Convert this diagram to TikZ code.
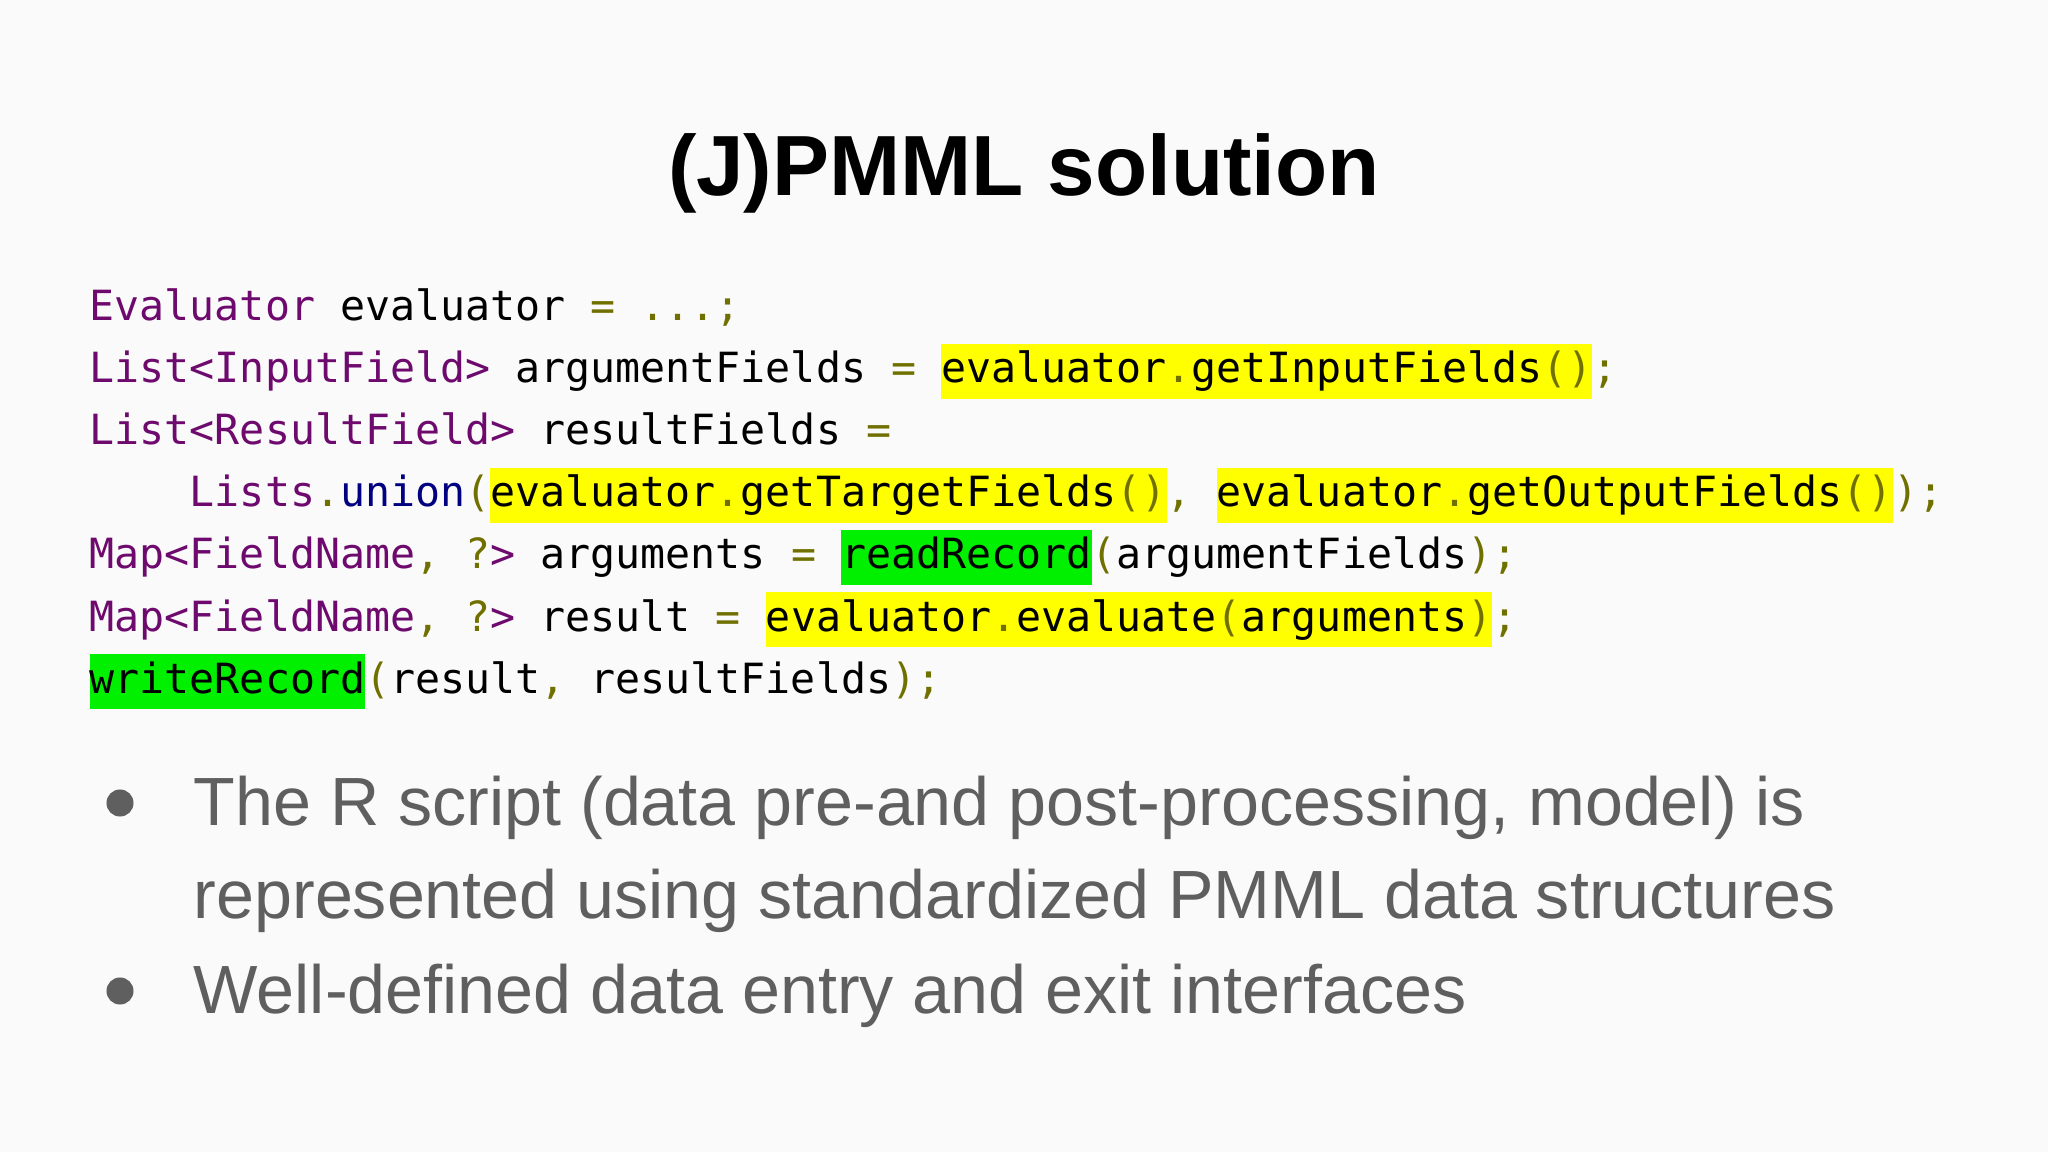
\documentclass[tikz,border=0pt]{standalone}
\usepackage{fontspec}
\setmainfont{Liberation Sans}
\setmonofont{DejaVu Sans Mono}
\definecolor{bg}{HTML}{FAFAFA}
\definecolor{ty}{HTML}{6E0A6E}
\definecolor{pu}{HTML}{707000}
\definecolor{nv}{HTML}{000080}
\definecolor{hy}{HTML}{FFFF00}
\definecolor{hg}{HTML}{00F000}
\definecolor{gr}{HTML}{5F5F5F}
\newcommand\ty[1]{\textcolor{ty}{#1}}
\newcommand\pu[1]{\textcolor{pu}{#1}}
\newcommand\nv[1]{\textcolor{nv}{#1}}
\newcommand\hly[1]{{\setlength\fboxsep{0pt}\colorbox{hy}{\rule[-4.6pt]{0pt}{15.6pt}#1}}}
\newcommand\hlg[1]{{\setlength\fboxsep{0pt}\colorbox{hg}{\rule[-4.6pt]{0pt}{15.6pt}#1}}}
\tikzset{code/.style={anchor=base west,inner sep=0pt,font=\ttfamily\fontsize{11.83}{14}\selectfont},
bul/.style={anchor=base west,inner sep=0pt,text=gr,font=\fontsize{19.4}{24}\selectfont},
dot/.style={circle,fill=gr,inner sep=0pt,minimum size=0.27cm}}
\begin{document}
\begin{tikzpicture}[x=0.01cm,y=-0.01cm]
\useasboundingbox[fill=bg] (0,0) rectangle (2048,1152);
\node[anchor=base,inner sep=0pt,font=\bfseries\fontsize{24.3}{30}\selectfont] (title) at (1024,196) {(J)PMML solution};
\node[code] (l1) at (89,321) {\ty{Evaluator} evaluator \pu{= ...;}};
\node[code] (l2) at (89,383) {\ty{List<InputField>} argumentFields \pu{=} \hly{evaluator\pu{.}getInputFields\pu{()}}\pu{;}};
\node[code] (l3) at (89,445) {\ty{List<ResultField>} resultFields \pu{=}};
\node[code] (l4) at (89,507) {\phantom{xxxx}\ty{Lists}\pu{.}\nv{union}\pu{(}\hly{evaluator\pu{.}getTargetFields\pu{()}}\pu{,} \hly{evaluator\pu{.}getOutputFields\pu{()}}\pu{);}};
\node[code] (l5) at (89,569) {\ty{Map<FieldName}\pu{,} \pu{?}\ty{>} arguments \pu{=} \hlg{readRecord}\pu{(}argumentFields\pu{);}};
\node[code] (l6) at (89,631) {\ty{Map<FieldName}\pu{,} \pu{?}\ty{>} result \pu{=} \hly{evaluator\pu{.}evaluate\pu{(}arguments\pu{)}}\pu{;}};
\node[code] (l7) at (89,693) {\hlg{writeRecord}\pu{(}result\pu{,} resultFields\pu{);}};
\node[dot] (d1) at (120,803) {};
\node[bul] (b1) at (193,825) {The R script (data pre-and post-processing, model) is};
\node[bul] (b2) at (193,918) {represented using standardized PMML data structures};
\node[dot] (d2) at (120,991) {};
\node[bul] (b3) at (193,1013) {Well-defined data entry and exit interfaces};
\end{tikzpicture}
\end{document}
